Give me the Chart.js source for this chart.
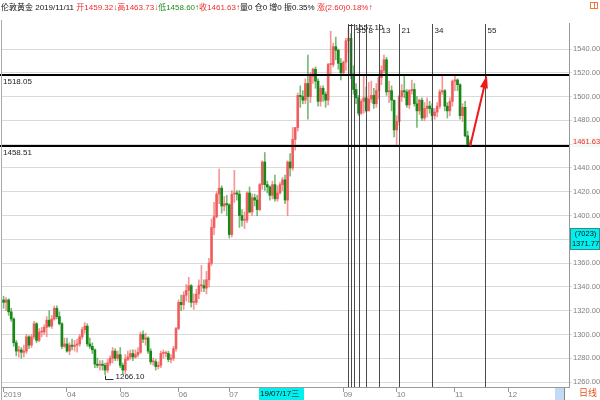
<!DOCTYPE html>
<html>
<head>
<meta charset="utf-8">
<script src="https://cdn.jsdelivr.net/npm/chart.js@4.4.0/dist/chart.umd.min.js"></script>
<style>
  html, body { margin: 0; padding: 0; background: #fff; }
</style>
</head>
<body>
<canvas id="kline" width="600" height="400"></canvas>
<script>
// Daily candles, London gold, 2019-02-25 .. 2019-11-11
const opens = [
  1329,1327,1329,1319,1313,1293,1286,1287,1285,1286,
  1298,1291,1298,1309,1295,1302,1302,1306,1312,1307,
  1313,1322,1315,1309,1290,1292,1286,1291,1290,1291,
  1292,1298,1304,1307,1292,1290,1287,1275,1274,1275,
  1274,1270,1276,1280,1286,1280,1283,1274,1270,1279,
  1281,1284,1281,1283,1285,1300,1296,1297,1286,1277,
  1277,1273,1274,1284,1284,1284,1279,1280,1288,1305,
  1327,1325,1333,1337,1341,1327,1327,1334,1341,1341,
  1339,1346,1360,1390,1399,1418,1423,1408,1410,1409,
  1384,1418,1419,1418,1400,1396,1396,1419,1403,1415,
  1413,1405,1426,1445,1426,1424,1417,1426,1414,1419,
  1426,1430,1413,1445,1440,1464,1474,1501,1500,1497,
  1511,1500,1517,1523,1513,1496,1507,1502,1497,1527,
  1527,1542,1539,1528,1520,1529,1547,1549,1519,1506,
  1499,1486,1496,1499,1488,1498,1501,1494,1505,1516,
  1522,1531,1504,1505,1497,1472,1479,1500,1505,1504,
  1493,1505,1506,1494,1488,1497,1482,1490,1492,1490,
  1484,1487,1492,1504,1505,1492,1488,1496,1513,1514,
  1510,1484,1491,1467,1459.32
];
const highs = [
  1332,1331,1330,1322,1314,1295,1290,1289,1291,1300,
  1299,1300,1311,1310,1305,1306,1308,1315,1320,1316,
  1324,1324,1319,1310,1297,1297,1293,1296,1295,1296,
  1300,1306,1310,1309,1297,1293,1288,1280,1278,1278,
  1276,1279,1282,1289,1288,1286,1289,1276,1283,1286,
  1287,1287,1287,1289,1302,1303,1301,1298,1288,1280,
  1279,1277,1286,1287,1286,1286,1283,1290,1306,1329,
  1333,1336,1342,1348,1342,1334,1338,1346,1358,1346,
  1353,1364,1397,1411,1420,1439,1425,1416,1417,1410,
  1421,1438,1421,1421,1405,1403,1420,1424,1418,1418,
  1417,1427,1446,1453,1429,1425,1429,1434,1425,1428,
  1432,1434,1446,1452,1474,1474,1503,1509,1505,1515,
  1535,1520,1524,1525,1515,1509,1509,1504,1528,1555,
  1545,1550,1540,1532,1530,1549,1557.10,1553,1526,1511,
  1501,1498,1517,1508,1512,1513,1507,1511,1519,1526,
  1535,1533,1513,1509,1497,1484,1501,1510,1517,1506,
  1506,1514,1511,1500,1498,1499,1495,1499,1496,1494,
  1490,1495,1506,1518,1506,1495,1499,1514,1517,1515,
  1511,1494,1496,1471,1463.73
];
const lows = [
  1322,1320,1316,1311,1290,1282,1281,1280,1281,1284,
  1288,1289,1296,1293,1294,1298,1300,1298,1306,1305,
  1312,1313,1308,1288,1289,1285,1283,1287,1286,1285,
  1290,1296,1301,1290,1288,1284,1272,1272,1270,1270,
  1266.10,1268,1274,1276,1278,1278,1272,1267,1267,1278,
  1279,1278,1280,1281,1284,1293,1291,1284,1275,1274,
  1270,1271,1272,1280,1281,1277,1276,1278,1286,1304,
  1320,1321,1328,1327,1323,1321,1325,1330,1336,1336,
  1334,1340,1358,1384,1398,1410,1402,1404,1400,1381,
  1382,1411,1413,1390,1391,1389,1394,1402,1400,1408,
  1400,1404,1422,1421,1419,1413,1414,1412,1412,1418,
  1421,1410,1400,1433,1438,1455,1471,1491,1494,1494,
  1481,1495,1511,1507,1492,1492,1496,1491,1493,1518,
  1525,1531,1523,1514,1518,1522,1537,1515,1502,1494,
  1484,1485,1486,1487,1488,1495,1490,1491,1498,1510,
  1520,1501,1495,1488,1466,1458,1476,1496,1499,1491,
  1490,1502,1492,1474,1485,1480,1480,1483,1486,1480,
  1481,1483,1490,1502,1488,1482,1484,1492,1505,1505,
  1481,1479,1466,1458,1458.60
];
const closes = [
  1327,1329,1319,1313,1293,1286,1287,1285,1286,1298,
  1291,1298,1309,1295,1302,1302,1306,1312,1307,1313,
  1322,1315,1309,1290,1292,1286,1291,1290,1291,1292,
  1298,1304,1307,1292,1290,1287,1275,1274,1275,1274,
  1270,1276,1280,1286,1280,1283,1274,1270,1279,1281,
  1284,1281,1283,1285,1300,1296,1297,1286,1277,1277,
  1273,1274,1284,1284,1284,1279,1280,1288,1305,1327,
  1325,1333,1337,1341,1327,1327,1334,1341,1341,1339,
  1346,1360,1390,1399,1418,1423,1408,1410,1409,1384,
  1418,1419,1418,1400,1396,1396,1419,1403,1415,1413,
  1405,1426,1445,1426,1424,1417,1426,1414,1419,1426,
  1430,1413,1445,1440,1464,1474,1501,1500,1497,1511,
  1500,1517,1523,1513,1496,1507,1502,1497,1527,1527,
  1542,1539,1528,1520,1529,1547,1549,1519,1506,1499,
  1486,1496,1499,1488,1498,1501,1494,1505,1516,1522,
  1531,1504,1505,1497,1472,1479,1500,1505,1504,1493,
  1505,1506,1494,1488,1497,1482,1490,1492,1490,1484,
  1487,1492,1504,1505,1492,1488,1496,1513,1514,1510,
  1484,1491,1467,1459.03,1461.63
];

// x axis: bar index of each month start and its label
const monthTicks  = [0, 25, 46, 69, 89, 112, 134, 155, 178, 199];
const monthLabels = ['2019', '04', '05', '06', '07', '08', '09', '10', '11', '12'];
const priceTicks = [1260, 1280, 1300, 1320, 1340, 1360, 1380, 1400, 1420, 1440, 1460, 1480, 1500, 1520, 1540];

// drawn studies
const levels = [1518.05, 1458.51];
const fibStart = 135;
const fibSteps = [1, 2, 3, 5, 8, 13, 21, 34, 55];
const cursorIndex = 101;
const cursorDate = '19/07/17三';
const cursorPrice = 1371.77;
const cursorVol = '(7023)';
const arrowFrom = [184, 1458.51];
const arrowTo = [190.6, 1518.05];

const FONT = '"Liberation Sans", "Noto Sans CJK SC", sans-serif';
const RED = '#ee2b2b';
const GREEN = '#1f8f1f';
const UP_BODY = 'rgba(240,70,70,0.8)';
const DOWN_BODY = '#118511';
const UP_WICK = 'rgba(240,80,80,0.6)';
const DOWN_WICK = 'rgba(30,140,30,0.6)';

const idx = closes.map((_, i) => i);
const isUp = i => closes[i] >= opens[i];
const last = closes.length - 1;

const overlay = {
  id: 'overlay',
  afterDatasetsDraw(chart) {
    const { ctx, chartArea: a, scales: { x, y } } = chart;
    ctx.save();

    // fibonacci time lines
    ctx.strokeStyle = '#4a4a4a';
    ctx.lineWidth = 1;
    ctx.font = '8px ' + FONT;
    ctx.fillStyle = '#222';
    ctx.textBaseline = 'middle';
    fibSteps.forEach(n => {
      const px = Math.round(x.getPixelForValue(fibStart + n)) + 0.5;
      ctx.beginPath();
      ctx.moveTo(px, a.top + 1);
      ctx.lineTo(px, a.bottom);
      ctx.stroke();
      if (n >= 3) ctx.fillText(String(n), px + 2, a.top + 8);
    });

    // horizontal level lines
    ctx.strokeStyle = '#000';
    ctx.lineWidth = 2;
    levels.forEach(v => {
      const py = Math.round(y.getPixelForValue(v));
      ctx.beginPath();
      ctx.moveTo(0, py);
      ctx.lineTo(a.right, py);
      ctx.stroke();
      ctx.fillStyle = '#222';
      ctx.textBaseline = 'top';
      ctx.fillText(v.toFixed(2), 3, py + 3);
    });

    // high / low markers
    const hiIdx = highs.indexOf(Math.max(...highs));
    const loIdx = lows.indexOf(Math.min(...lows));
    ctx.lineWidth = 1;
    ctx.strokeStyle = '#333';
    ctx.textBaseline = 'middle';
    let px = Math.round(x.getPixelForValue(hiIdx)) + 0.5;
    let py = Math.round(y.getPixelForValue(highs[hiIdx])) + 0.5;
    ctx.beginPath();
    ctx.moveTo(px, py);
    ctx.lineTo(px, py - 4);
    ctx.lineTo(px + 5, py - 4);
    ctx.stroke();
    ctx.fillText(highs[hiIdx].toFixed(2), px + 6, py - 2);
    px = Math.round(x.getPixelForValue(loIdx)) + 0.5;
    py = Math.round(y.getPixelForValue(lows[loIdx])) + 0.5;
    ctx.beginPath();
    ctx.moveTo(px, py);
    ctx.lineTo(px, py + 4);
    ctx.lineTo(px + 8, py + 4);
    ctx.stroke();
    ctx.fillText(lows[loIdx].toFixed(2), px + 10, py + 1);

    // red arrow
    const x0 = x.getPixelForValue(arrowFrom[0]), y0 = y.getPixelForValue(arrowFrom[1]);
    const x1 = x.getPixelForValue(arrowTo[0]), y1 = y.getPixelForValue(arrowTo[1]);
    const ang = Math.atan2(y1 - y0, x1 - x0);
    ctx.strokeStyle = '#f01818';
    ctx.fillStyle = '#f01818';
    ctx.lineWidth = 2;
    ctx.beginPath();
    ctx.moveTo(x0, y0);
    ctx.lineTo(x1 - 8 * Math.cos(ang), y1 - 8 * Math.sin(ang));
    ctx.stroke();
    ctx.beginPath();
    ctx.moveTo(x1, y1);
    ctx.lineTo(x1 - 13 * Math.cos(ang) + 4 * Math.sin(ang), y1 - 13 * Math.sin(ang) - 4 * Math.cos(ang));
    ctx.lineTo(x1 - 13 * Math.cos(ang) - 4 * Math.sin(ang), y1 - 13 * Math.sin(ang) + 4 * Math.cos(ang));
    ctx.closePath();
    ctx.fill();
    ctx.restore();
  },
  afterDraw(chart) {
    const { ctx, chartArea: a, scales: { x, y } } = chart;
    ctx.save();
    ctx.textBaseline = 'middle';

    // left frame line
    ctx.strokeStyle = '#aaa';
    ctx.lineWidth = 1;
    ctx.beginPath();
    ctx.moveTo(1.5, a.top - 3);
    ctx.lineTo(1.5, 400);
    ctx.stroke();

    // last price on the right axis
    let py = y.getPixelForValue(closes[last]);
    ctx.fillStyle = '#f3faf3';
    ctx.fillRect(a.right + 3, py - 5, 600 - a.right - 3, 10);
    ctx.fillStyle = RED;
    ctx.font = '7.5px ' + FONT;
    ctx.fillText(closes[last].toFixed(2), a.right + 4, py);

    // cursor price box
    py = Math.round(y.getPixelForValue(cursorPrice));
    ctx.fillStyle = '#00f0f0';
    ctx.fillRect(a.right + 1, py - 21, 600 - a.right - 1, 22);
    ctx.strokeStyle = '#3a8a8a';
    ctx.strokeRect(a.right + 1.5, py - 20.5, 600 - a.right - 2, 21);
    ctx.fillStyle = '#111';
    ctx.textAlign = 'center';
    ctx.fillText(cursorVol, (a.right + 600) / 2 + 1, py - 15);
    ctx.fillText(cursorPrice.toFixed(2), (a.right + 600) / 2 + 1, py - 5);

    // cursor date box
    const cx = Math.round(x.getPixelForValue(cursorIndex));
    ctx.textAlign = 'left';
    ctx.font = '8px ' + FONT;
    ctx.fillStyle = '#00f0f0';
    ctx.fillRect(cx - 1, a.bottom + 1, 45, 12);
    ctx.fillStyle = '#111';
    ctx.fillText(cursorDate, cx, a.bottom + 7);

    // bottom right corner
    ctx.fillStyle = '#c2daf4';
    ctx.fillRect(a.right - 14, a.bottom + 1, 9, 12);
    ctx.strokeStyle = '#888';
    ctx.beginPath();
    ctx.moveTo(a.right - 4.5, a.bottom + 1);
    ctx.lineTo(a.right - 4.5, 400);
    ctx.stroke();
    ctx.fillStyle = '#e8501c';
    ctx.font = '9px ' + FONT;
    ctx.fillText('日线', a.right + 10, a.bottom + 7);

    // header line
    const prev = closes[last - 1];
    const chg = closes[last] - prev;
    const header = [
      ['伦敦黄金 2019/11/11 ', '#111'],
      ['开' + opens[last].toFixed(2) + '↓', RED],
      ['高' + highs[last].toFixed(2) + '↓', RED],
      ['低' + lows[last].toFixed(2) + '↑', GREEN],
      ['收' + closes[last].toFixed(2) + '↑', RED],
      ['量0 仓0 增0 振' + ((highs[last] - lows[last]) / prev * 100).toFixed(2) + '% ', '#111'],
      ['涨(' + chg.toFixed(2) + ')' + (chg / prev * 100).toFixed(2) + '%↑', RED]
    ];
    ctx.font = '8px ' + FONT;
    let hx = 1;
    header.forEach(([t, c]) => {
      ctx.fillStyle = c;
      ctx.fillText(t, hx, 8);
      hx += ctx.measureText(t).width;
    });

    // little window icon top right
    ctx.strokeStyle = '#f07a3a';
    ctx.strokeRect(590.5, 2.5, 7, 6);
    ctx.beginPath();
    ctx.moveTo(594.5, 2.5);
    ctx.lineTo(594.5, 8.5);
    ctx.stroke();
    ctx.restore();
  }
};

const ctx = document.getElementById('kline').getContext('2d');
new Chart(ctx, {
  type: 'bar',
  data: {
    datasets: [{
      label: 'wick',
      data: idx.map(i => ({ x: i, y: [lows[i], highs[i]] })),
      backgroundColor: idx.map(i => isUp(i) ? UP_WICK : DOWN_WICK),
      barThickness: 1,
      grouped: false
    }, {
      label: 'body',
      data: idx.map(i => ({ x: i, y: [opens[i], closes[i]] })),
      backgroundColor: idx.map(i => isUp(i) ? UP_BODY : DOWN_BODY),
      barThickness: 2,
      minBarLength: 1,
      grouped: false
    }]
  },
  options: {
    responsive: false,
    animation: false,
    layout: { padding: { top: 23, left: 2 } },
    plugins: { legend: { display: false }, tooltip: { enabled: false } },
    scales: {
      x: {
        type: 'linear',
        offset: false,
        min: -0.63,
        max: 222.97,
        afterBuildTicks: axis => { axis.ticks = monthTicks.map(v => ({ value: v })); },
        afterFit: axis => { axis.height = 13; },
        ticks: {
          autoSkip: false,
          maxRotation: 0,
          align: 'start',
          padding: -2,
          color: '#808080',
          font: { family: FONT, size: 8 },
          callback: v => monthLabels[monthTicks.indexOf(v)]
        },
        grid: { drawOnChartArea: false, tickLength: 5, color: '#999', offset: false },
        border: { color: '#999' }
      },
      y: {
        position: 'right',
        min: 1255.8,
        max: 1561.9,
        afterBuildTicks: axis => { axis.ticks = priceTicks.map(v => ({ value: v })); },
        afterFit: axis => { axis.width = 31; },
        ticks: {
          padding: 1,
          color: '#808080',
          font: { family: FONT, size: 7.5 },
          callback: v => v.toFixed(2)
        },
        grid: { color: '#dadada', tickLength: 3 },
        border: { color: '#999' }
      }
    }
  },
  plugins: [overlay]
});
</script>
</body>
</html>
